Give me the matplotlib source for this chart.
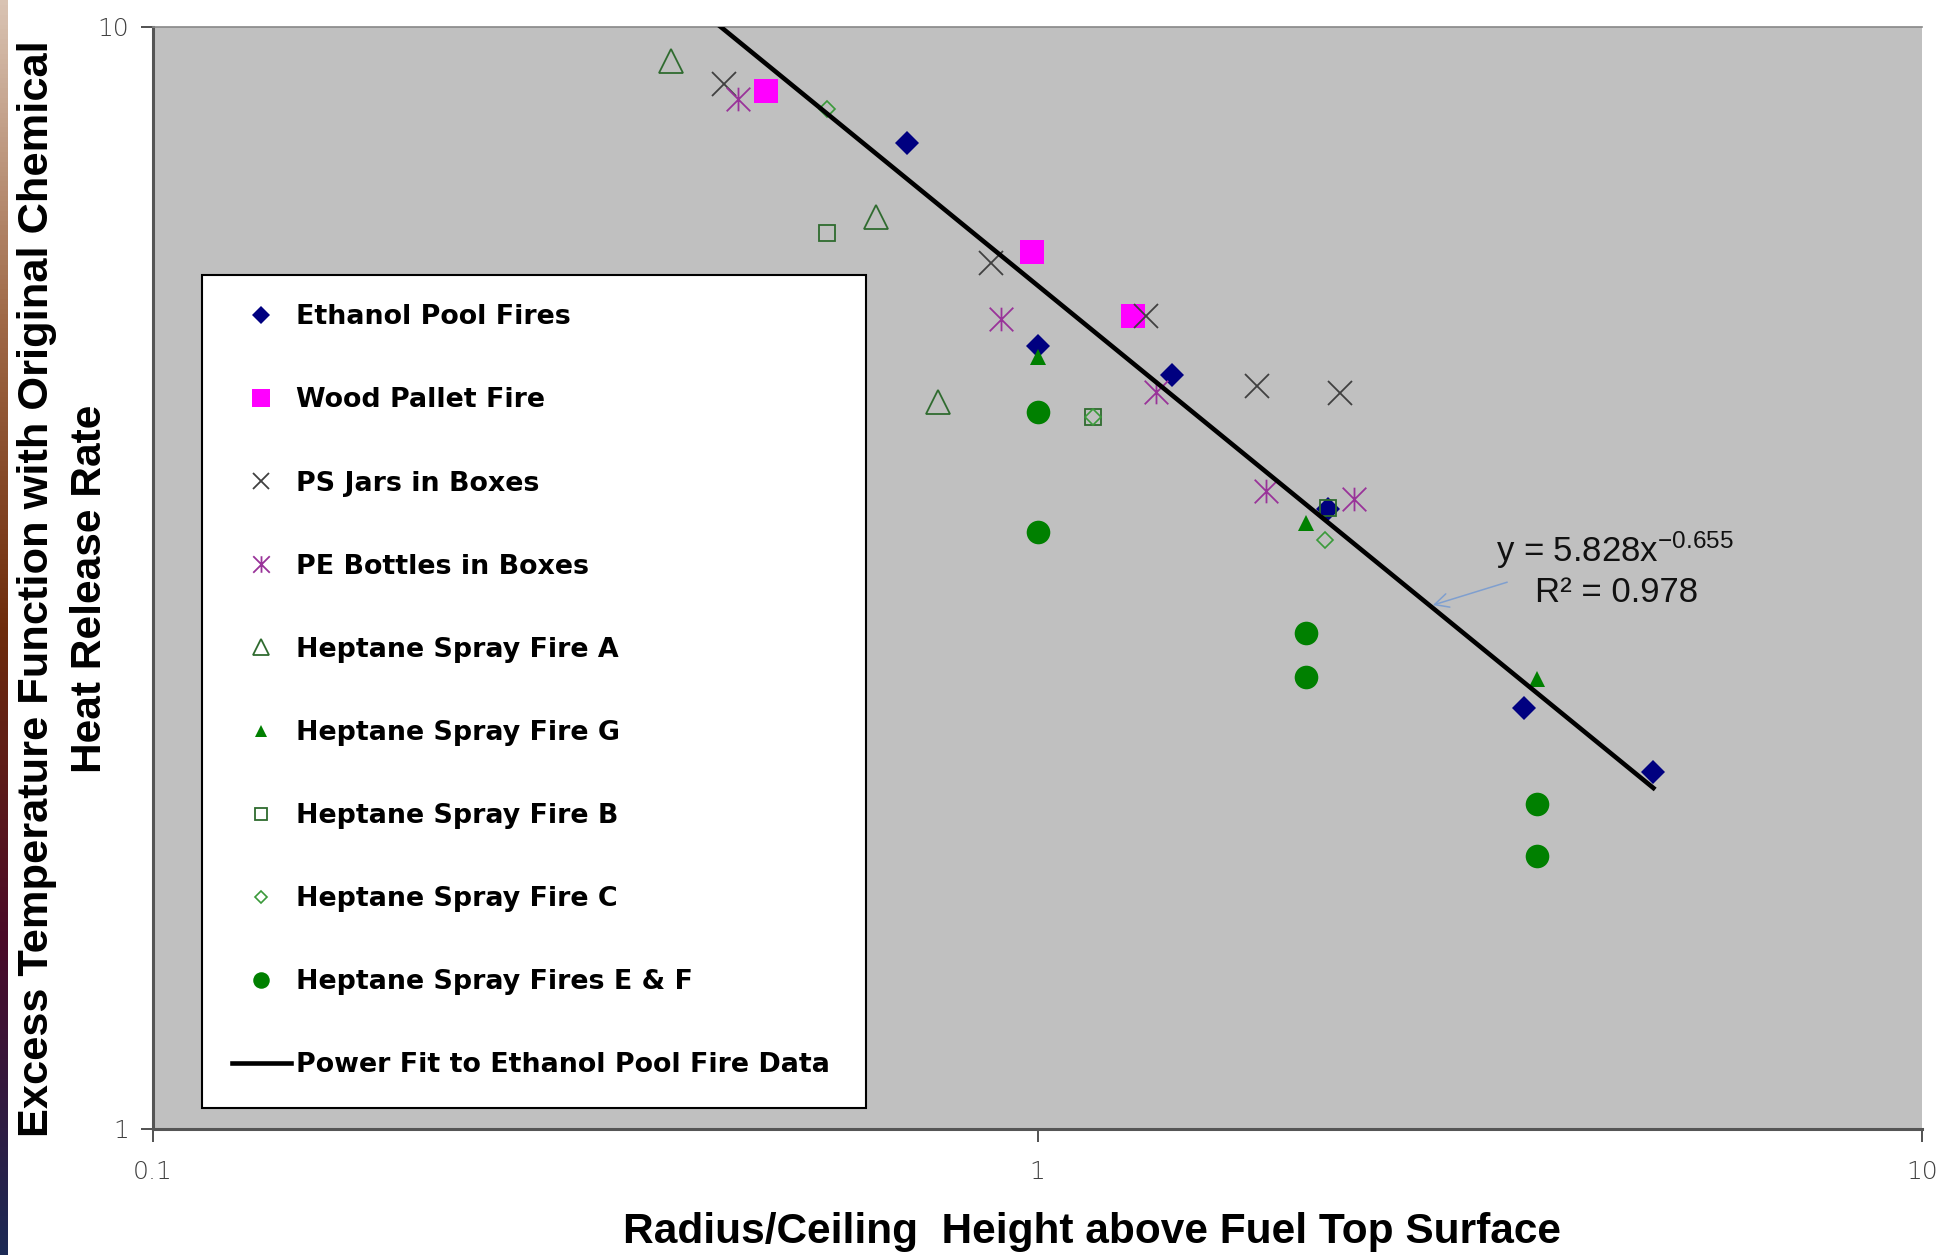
import numpy as np
import matplotlib
matplotlib.use("Agg")
import matplotlib.pyplot as plt
from matplotlib.path import Path
from matplotlib.ticker import NullLocator
from matplotlib.colors import LinearSegmentedColormap

plt.rcParams['font.family'] = ['Liberation Sans', 'DejaVu Sans']
plt.rcParams['mathtext.fontset'] = 'custom'
plt.rcParams['mathtext.rm'] = 'Liberation Sans'
plt.rcParams['mathtext.it'] = 'Liberation Sans'

# data (x = radius / ceiling height, y = excess temperature function)
ethanol_x = [0.712, 1.00, 1.418, 2.13, 3.55, 4.97]
ethanol_y = [7.85, 5.14, 4.83, 3.65, 2.41, 2.11]

wood_x = [0.493, 0.985, 1.282]
wood_y = [8.75, 6.25, 5.47]

ps_x = [0.442, 0.885, 1.325, 1.769, 2.20]
ps_y = [8.87, 6.11, 5.47, 4.72, 4.65]

pe_x = [0.458, 0.909, 1.36, 1.815, 2.28]
pe_y = [8.60, 5.43, 4.66, 3.79, 3.73]

hepA_x = [0.385, 0.657, 0.772]
hepA_y = [9.32, 6.73, 4.57]

hepG_x = [1.00, 2.01, 3.67]
hepG_y = [5.02, 3.55, 2.56]

hepB_x = [0.578, 1.156, 2.13]
hepB_y = [6.50, 4.43, 3.66]

hepC_x = [0.578, 1.156, 2.115]
hepC_y = [8.42, 4.43, 3.42]

hepEF_x = [1.00, 1.00, 2.01, 2.01, 3.67, 3.67]
hepEF_y = [4.47, 3.48, 2.82, 2.57, 1.97, 1.77]

# power fit to ethanol data, as printed on the chart
fit_a = 5.828
fit_b = -0.655
fit_r2 = 0.978
fit_xmin, fit_xmax = 0.40, 4.97

# excel style asterisk: vertical bar + x
star = Path([(0, -1), (0, 1), (-1, -1), (1, 1), (-1, 1), (1, -1)],
            [Path.MOVETO, Path.LINETO, Path.MOVETO, Path.LINETO, Path.MOVETO, Path.LINETO])

fig = plt.figure(figsize=(19.57, 12.55), dpi=100)
ax = fig.add_axes([0.0782, 0.1004, 0.9039, 0.8781])
ax.set_facecolor('#c0c0c0')

ax.plot(ethanol_x, ethanol_y, ls='none', marker='D', ms=12.5, mfc='#000080', mec='#000080', mew=0,
        label='Ethanol Pool Fires', zorder=4)
ax.plot(wood_x, wood_y, ls='none', marker='s', ms=17.5, mfc='#ff00ff', mec='#ff00ff', mew=0,
        label='Wood Pallet Fire', zorder=4)
ax.plot(ps_x, ps_y, ls='none', marker='x', ms=17, mec='#404040', mew=1.3,
        label='PS Jars in Boxes', zorder=4)
ax.plot(pe_x, pe_y, ls='none', marker=star, ms=17, mfc='none', mec='#993399', mew=1.3,
        label='PE Bottles in Boxes', zorder=4)
ax.plot(hepA_x, hepA_y, ls='none', marker='^', ms=17, mfc='none', mec='#2f6b2f', mew=1.3,
        label='Heptane Spray Fire A', zorder=4)
ax.plot(hepG_x, hepG_y, ls='none', marker='^', ms=12, mfc='#008000', mec='#008000', mew=0,
        label='Heptane Spray Fire G', zorder=4)
ax.plot(hepB_x, hepB_y, ls='none', marker='s', ms=12, mfc='none', mec='#2e6b2e', mew=1.3,
        label='Heptane Spray Fire B', zorder=4)
ax.plot(hepC_x, hepC_y, ls='none', marker='D', ms=8.5, mfc='none', mec='#3a9a3a', mew=1.2,
        label='Heptane Spray Fire C', zorder=4)
ax.plot(hepEF_x, hepEF_y, ls='none', marker='o', ms=17, mfc='#008000', mec='#008000', mew=0,
        label='Heptane Spray Fires E & F', zorder=4)

xf = np.logspace(np.log10(fit_xmin), np.log10(fit_xmax), 100)
ax.plot(xf, fit_a * xf ** fit_b, color='black', lw=3.3, label='Power Fit to Ethanol Pool Fire Data', zorder=5)

ax.set_xscale('log')
ax.set_yscale('log')
ax.set_xlim(0.1, 10)
ax.set_ylim(1, 10)
ax.set_xticks([0.1, 1, 10], labels=['0.1', '1', '10'])
ax.set_yticks([1, 10], labels=['1', '10'])
ax.xaxis.set_minor_locator(NullLocator())
ax.yaxis.set_minor_locator(NullLocator())
ax.tick_params(axis='both', length=9, width=1.2, color='#333333', labelsize=18, labelcolor='#404040')
ax.tick_params(axis='x', pad=13)
ax.tick_params(axis='y', pad=8)
for lbl in ax.get_xticklabels() + ax.get_yticklabels():
    lbl.set_family('DejaVu Sans')
    lbl.set_fontweight('light')

for side in ['left', 'bottom']:
    ax.spines[side].set_color('#555555')
    ax.spines[side].set_linewidth(2.2)
ax.spines['top'].set_color('#888888')
ax.spines['top'].set_linewidth(1.2)
ax.spines['right'].set_visible(False)

# trendline equation
tip_x = 2.78
ax.annotate('', xy=(tip_x, fit_a * tip_x ** fit_b), xytext=(3.42, 3.14),
            arrowprops=dict(arrowstyle='->', color='#7f9fcf', lw=1.1, mutation_scale=25), zorder=6)
ax.text(4.50, 3.35, 'y = 5.828x$^{\\mathrm{-0.655}}$', fontsize=25, ha='center', va='center', color='#111111')
ax.text(4.52, 3.07, 'R² = %.3f' % fit_r2, fontsize=25, ha='center', va='center', color='#111111')

leg = ax.legend(loc='lower left', bbox_to_anchor=(0.0277, 0.019, 0.3753, 0.753), mode='expand',
                borderaxespad=0, fancybox=False, framealpha=1, edgecolor='black',
                prop={'family': 'DejaVu Sans', 'size': 19.4, 'weight': 'bold'}, labelspacing=2.12,
                borderpad=1.1, handlelength=2.2, handletextpad=0.2, markerscale=0.7)
leg.get_frame().set_linewidth(1.5)

fig.text(0.558, 0.0183, 'Radius/Ceiling  Height above Fuel Top Surface', fontsize=30.5, fontweight='bold',
         ha='center', va='center')
fig.text(0.0189, 0.5307, 'Excess Temperature Function with Original Chemical', fontsize=31.2,
         fontweight='bold', ha='center', va='center', rotation=90)
fig.text(0.046, 0.5307, 'Heat Release Rate', fontsize=30.5, fontweight='bold',
         ha='center', va='center', rotation=90)

# slide background strip on the left edge
strip = LinearSegmentedColormap.from_list('strip', ['#d9c3b3', '#a06a48', '#6e2c0c', '#4a0a28', '#1c2a55'])
sax = fig.add_axes([0, 0, 0.0036, 1])
sax.imshow(np.linspace(0, 1, 256).reshape(-1, 1), aspect='auto', cmap=strip)
sax.axis('off')

fig.savefig('out.png', dpi=100)
